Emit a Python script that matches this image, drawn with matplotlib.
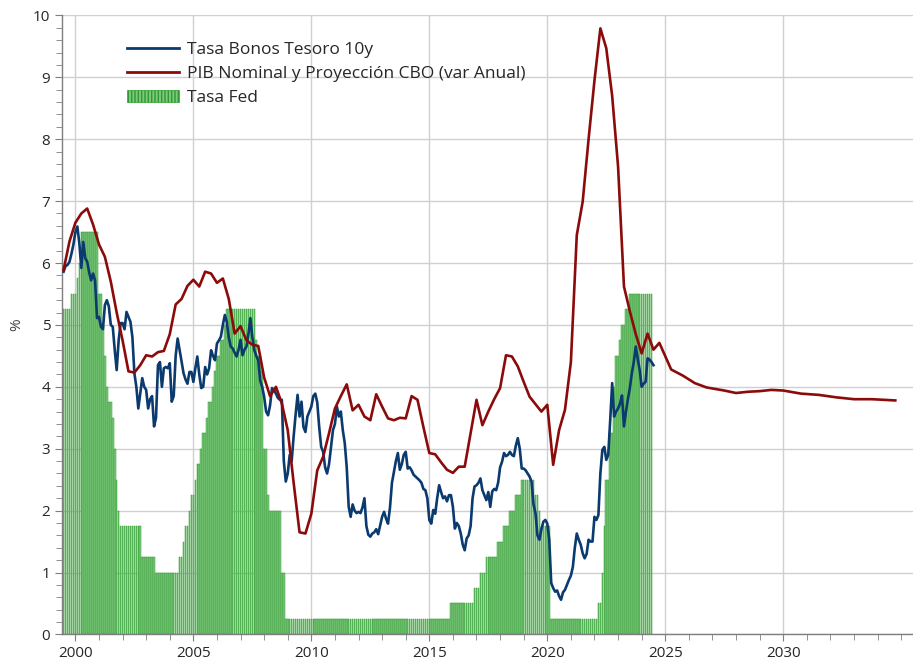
import numpy as np
import pandas as pd
import matplotlib
matplotlib.use('Agg')
import matplotlib.pyplot as plt
from matplotlib.patches import Patch
from matplotlib.lines import Line2D
from matplotlib.ticker import MultipleLocator, FixedLocator

plt.rcParams['font.family'] = ['Open Sans', 'DejaVu Sans']

# Tasa Bonos Tesoro 10y, mensual desde jul-1999 hasta jul-2024
bono_10y = [
    5.86, 5.95, 5.97, 6.02, 6.15, 6.30,
    6.50, 6.59, 6.32, 5.92, 6.34, 6.08, 6.02, 5.85, 5.72, 5.83, 5.72, 5.11,
    5.13, 4.97, 4.93, 5.32, 5.40, 5.30, 5.00, 4.97, 4.60, 4.27, 4.75, 5.03,
    5.03, 4.93, 5.21, 5.13, 5.05, 4.80, 4.22, 4.00, 3.65, 3.90, 4.14, 4.00,
    3.95, 3.65, 3.80, 3.85, 3.36, 3.50, 4.35, 4.40, 4.00, 4.30, 4.32, 4.30,
    4.38, 3.76, 3.85, 4.50, 4.78, 4.60, 4.41, 4.22, 4.12, 4.05, 4.24, 4.24,
    4.08, 4.30, 4.49, 4.20, 3.98, 4.00, 4.32, 4.20, 4.30, 4.59, 4.50, 4.43,
    4.70, 4.75, 4.81, 5.00, 5.16, 5.05, 4.80, 4.65, 4.62, 4.55, 4.49, 4.60,
    4.76, 4.51, 4.60, 4.65, 4.85, 5.11, 4.80, 4.59, 4.50, 4.43, 4.10, 4.00,
    3.84, 3.60, 3.54, 3.70, 3.98, 3.95, 3.89, 3.82, 3.79, 3.79, 2.80, 2.47,
    2.60, 2.90, 2.80, 3.20, 3.55, 3.87, 3.52, 3.76, 3.35, 3.27, 3.52, 3.60,
    3.68, 3.85, 3.89, 3.75, 3.35, 3.03, 2.95, 2.70, 2.60, 2.75, 3.03, 3.30,
    3.40, 3.68, 3.52, 3.60, 3.30, 3.09, 2.70, 2.06, 1.90, 2.10, 2.00, 1.96,
    1.98, 1.96, 2.05, 2.20, 1.75, 1.61, 1.58, 1.63, 1.65, 1.70, 1.62, 1.76,
    1.90, 1.98, 1.87, 1.79, 2.05, 2.45, 2.63, 2.80, 2.93, 2.66, 2.75, 2.90,
    2.95, 2.68, 2.70, 2.65, 2.58, 2.55, 2.52, 2.49, 2.45, 2.35, 2.33, 2.20,
    1.85, 1.79, 2.01, 1.95, 2.20, 2.41, 2.30, 2.20, 2.23, 2.15, 2.25, 2.25,
    2.06, 1.71, 1.80, 1.75, 1.63, 1.45, 1.36, 1.55, 1.60, 1.75, 2.20, 2.39,
    2.41, 2.45, 2.52, 2.33, 2.25, 2.17, 2.30, 2.06, 2.31, 2.35, 2.33, 2.45,
    2.70, 2.79, 2.93, 2.88, 2.90, 2.95, 2.90, 2.88, 3.05, 3.17, 3.00, 2.68,
    2.68, 2.65, 2.60, 2.55, 2.47, 2.10, 1.96, 1.60, 1.53, 1.70, 1.82, 1.85,
    1.79, 1.53, 0.83, 0.75, 0.69, 0.71, 0.62, 0.56, 0.68, 0.72, 0.80, 0.88,
    0.95, 1.09, 1.40, 1.63, 1.53, 1.45, 1.31, 1.23, 1.30, 1.53, 1.50, 1.50,
    1.90, 1.85, 1.93, 2.60, 2.98, 3.03, 2.82, 2.90, 3.46, 4.06, 3.52, 3.60,
    3.65, 3.73, 3.86, 3.36, 3.60, 3.80, 3.98, 4.22, 4.40, 4.65, 4.45, 4.27,
    4.00, 4.05, 4.08, 4.46, 4.44, 4.40, 4.35,
]

# Tasa Fed (limite superior, fin de mes), mensual desde jul-1999 hasta jun-2024
tasa_fed = (
    [5.25] * 4 + [5.5] * 3 + [5.75, 6.0] + [6.5] * 9
    + [5.5, 5.5, 5.0, 4.5, 4.0, 3.75, 3.75, 3.5, 3.0, 2.5, 2.0, 1.75]
    + [1.75] * 10 + [1.25] * 7 + [1.0] * 12
    + [1.25, 1.25, 1.5, 1.75, 1.75, 2.0, 2.25]
    + [2.25, 2.5, 2.75, 2.75, 3.0, 3.25, 3.25, 3.5, 3.75, 3.75, 4.0, 4.25]
    + [4.5, 4.5, 4.75, 4.75, 5.0] + [5.25] * 15
    + [4.75, 4.5, 4.5, 4.25]
    + [3.0, 3.0, 2.25] + [2.0] * 6 + [1.0, 1.0]
    + [0.25] * 84
    + [0.5] * 12 + [0.75] * 3 + [1.0] * 3 + [1.25] * 6
    + [1.5] * 3 + [1.75] * 3 + [2.0] * 3 + [2.25] * 3 + [2.5] * 7
    + [2.25, 2.25, 2.0, 1.75, 1.75, 1.75, 1.75, 1.75]
    + [0.25] * 24
    + [0.5, 0.5, 1.0, 1.75, 2.5, 2.5, 3.25, 3.25, 4.0, 4.5]
    + [4.5, 4.75, 5.0, 5.0, 5.25, 5.25] + [5.5] * 12
)

# PIB nominal var. anual, trimestral desde 1999T3 hasta 2024T3
pib_nominal = [
    5.89, 6.35,
    6.65, 6.80, 6.88, 6.62,
    6.30, 6.10, 5.70, 5.20,
    4.75, 4.25, 4.23, 4.35,
    4.51, 4.49, 4.56, 4.58,
    4.85, 5.33, 5.42, 5.63,
    5.73, 5.62, 5.86, 5.83,
    5.68, 5.75, 5.42, 4.86,
    4.98, 4.75, 4.68, 4.66,
    4.15, 3.85, 4.00, 3.73,
    3.30, 2.45, 1.65, 1.63,
    1.95, 2.65, 2.87, 3.25,
    3.65, 3.85, 4.04, 3.62,
    3.71, 3.52, 3.46, 3.88,
    3.68, 3.49, 3.46, 3.50,
    3.49, 3.85, 3.79, 3.35,
    2.93, 2.91, 2.78, 2.66,
    2.61, 2.71, 2.71, 3.25,
    3.79, 3.38, 3.60, 3.80,
    3.98, 4.51, 4.49, 4.33,
    4.08, 3.84, 3.72, 3.60,
    3.71, 2.74, 3.30, 3.63,
    4.40, 6.45, 6.99, 8.00,
    8.95, 9.79, 9.47, 8.70,
    7.56, 5.62, 5.22, 4.85,
    4.54, 4.86, 4.60,
]

# Proyeccion CBO
cbo_anio = [2024.75, 2025.25, 2025.75, 2026.25, 2026.75, 2027.5, 2028.0, 2028.5,
            2029.0, 2029.5, 2030.0, 2030.75, 2031.5, 2032.25, 2033.0, 2033.75, 2034.75]
cbo_valor = [4.71, 4.28, 4.18, 4.06, 3.99, 3.94, 3.90, 3.92,
             3.93, 3.95, 3.94, 3.89, 3.87, 3.83, 3.80, 3.80, 3.78]

anios_eje = [2000, 2005, 2010, 2015, 2020, 2025, 2030]


def decimal_year(dates):
    return dates.year + (dates.month - 1) / 12.0


x_bono = decimal_year(pd.date_range('1999-07-01', periods=len(bono_10y), freq='MS'))
x_fed = decimal_year(pd.date_range('1999-07-01', periods=len(tasa_fed), freq='MS'))
x_pib = decimal_year(pd.date_range('1999-07-01', periods=len(pib_nominal), freq='QS'))
x_pib_total = np.concatenate([x_pib, cbo_anio])
y_pib_total = np.concatenate([pib_nominal, cbo_valor])

azul = '#0b3a6f'
rojo = '#8b0b0b'
verde_claro = '#80c680'
verde = '#2a9d2a'

fig = plt.figure(figsize=(9.13, 6.61), dpi=100)
ax = fig.add_axes([0.068, 0.0402, 0.932, 0.9365])

ax.bar(x_fed, tasa_fed, width=0.8 / 12, color=verde_claro, edgecolor=verde,
       linewidth=0.35, align='center', zorder=2)
ax.plot(x_bono, bono_10y, color=azul, lw=1.9, zorder=3)
ax.plot(x_pib_total, y_pib_total, color=rojo, lw=1.9, zorder=4)

ax.set_xlim(1999.436, 2035.5)
ax.set_ylim(0, 10)
ax.xaxis.set_major_locator(FixedLocator(anios_eje))
ax.xaxis.set_minor_locator(MultipleLocator(1))
ax.yaxis.set_major_locator(MultipleLocator(1))
ax.yaxis.set_minor_locator(MultipleLocator(0.2))
ax.xaxis.set_major_formatter(plt.FuncFormatter(lambda v, p: '%d' % v))

ax.grid(True, which='major', color='#d0d0d0', lw=1.0, zorder=0)
ax.set_axisbelow(True)
for s in ['top', 'right']:
    ax.spines[s].set_visible(False)
for s in ['left', 'bottom']:
    ax.spines[s].set_color('#7f7f7f')
    ax.spines[s].set_linewidth(1.0)
ax.tick_params(which='both', direction='out', colors='#7f7f7f', labelcolor='#262626',
               labelsize=11)
ax.tick_params(which='major', length=5)
ax.tick_params(which='minor', length=4)
ax.set_ylabel('%', fontsize=11, color='#404040', labelpad=6)

handles = [
    Line2D([], [], color=azul, lw=2),
    Line2D([], [], color=rojo, lw=2),
    Patch(facecolor=verde_claro, edgecolor=verde, hatch='|||||', lw=0.5),
]
labels = ['Tasa Bonos Tesoro 10y', 'PIB Nominal y Proyección CBO (var Anual)', 'Tasa Fed']
ax.legend(handles, labels, loc='upper left', bbox_to_anchor=(0.058, 0.982),
          frameon=False, fontsize=12.5, handlelength=3.0, handletextpad=0.45,
          labelspacing=0.45, labelcolor='#262626')

fig.savefig('out.png', dpi=100)
